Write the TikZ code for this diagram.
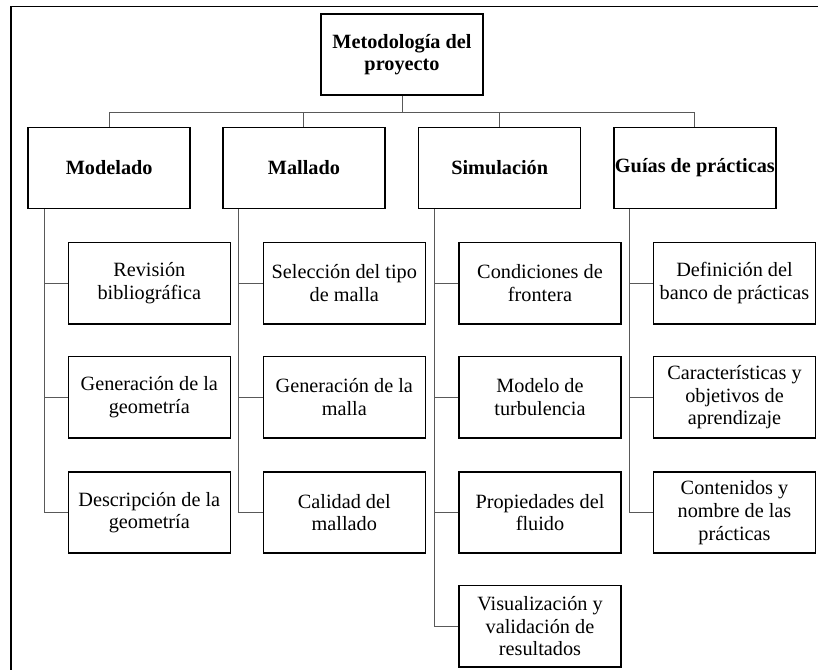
\documentclass[tikz,border=0pt]{standalone}
\usepackage{fontspec}
\setmainfont{Liberation Serif}
\begin{document}
\begin{tikzpicture}[x=0.75pt,y=-0.75pt,
  box/.style={draw=black,line width=1.1pt,rectangle,minimum width=121.5pt,minimum height=61pt,align=center,inner sep=0pt,font=\fontsize{15.2}{17}\selectfont},
  hbox/.style={box,font=\fontsize{15.2}{17}\selectfont\bfseries},
  conn/.style={draw=black!65,line width=0.65pt}]
\useasboundingbox (0,0) rectangle (818,670);
\draw[line width=1.2pt] (11,6.5) rectangle (840,700);
% root
\node[hbox] (root) at (402,54.5) {Metodología del\\proyecto};
% level 1
\node[hbox] (mod) at (109.2,168) {Modelado};
\node[hbox] (mal) at (303.9,168) {Mallado};
\node[hbox] (sim) at (499.7,168) {Simulación};
\node[hbox] (gui) at (694.9,168) {Guías de prácticas};
% children
\node[box] (m1) at (149.3,283.3) {Revisión\\bibliográfica};
\node[box] (m2) at (149.3,397.2) {Generación de la\\geometría};
\node[box] (m3) at (149.3,512.5) {Descripción de la\\geometría};
\node[box] (a1) at (344.3,283.3) {Selección del tipo\\de malla};
\node[box] (a2) at (344.3,397.2) {Generación de la\\malla};
\node[box] (a3) at (344.3,512.5) {Calidad del\\mallado};
\node[box] (s1) at (540,283.3) {Condiciones de\\frontera};
\node[box] (s2) at (540,397.2) {Modelo de\\turbulencia};
\node[box] (s3) at (540,512.5) {Propiedades del\\fluido};
\node[box] (s4) at (540,626.3) {Visualización y\\validación de\\resultados};
\node[box] (g1) at (734.5,283.3) {Definición del\\banco de prácticas};
\node[box] (g2) at (734.5,397.2) {Características y\\objetivos de\\aprendizaje};
\node[box] (g3) at (734.5,512.5) {Contenidos y\\nombre de las\\prácticas};
% bus
\coordinate (bus) at (402,112.3);
\draw[conn] (root.south) -- (root.south |- bus);
\draw[conn] (mod.north) |- (bus) -| (gui.north);
\draw[conn] (mal.north) -- (mal.north |- bus);
\draw[conn] (sim.north) -- (sim.north |- bus);
% spines
\coordinate (sm) at ([xshift=12.5pt]mod.south west);
\coordinate (sa) at ([xshift=12.5pt]mal.south west);
\coordinate (ss) at ([xshift=12.5pt]sim.south west);
\coordinate (sg) at ([xshift=12.5pt]gui.south west);
\draw[conn] (sm) |- (m3.west);
\draw[conn] (m1.west) -- (m1.west -| sm);
\draw[conn] (m2.west) -- (m2.west -| sm);
\draw[conn] (sa) |- (a3.west);
\draw[conn] (a1.west) -- (a1.west -| sa);
\draw[conn] (a2.west) -- (a2.west -| sa);
\draw[conn] (ss) |- (s4.west);
\draw[conn] (s1.west) -- (s1.west -| ss);
\draw[conn] (s2.west) -- (s2.west -| ss);
\draw[conn] (s3.west) -- (s3.west -| ss);
\draw[conn] (sg) |- (g3.west);
\draw[conn] (g1.west) -- (g1.west -| sg);
\draw[conn] (g2.west) -- (g2.west -| sg);
\end{tikzpicture}
\end{document}
